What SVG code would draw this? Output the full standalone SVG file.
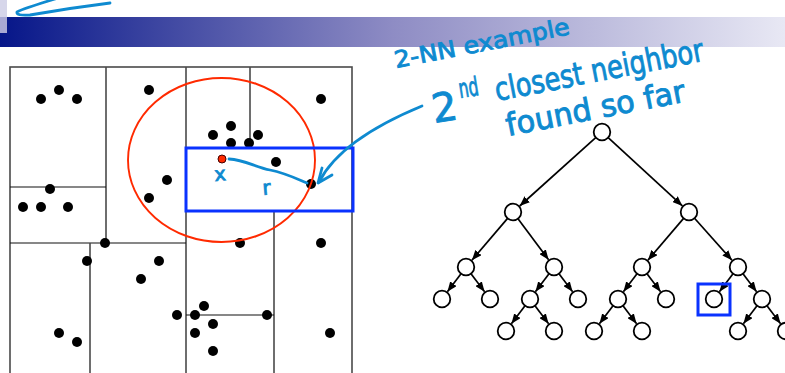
<svg xmlns="http://www.w3.org/2000/svg" width="785" height="373" viewBox="0 0 785 373">
<defs>
<linearGradient id="bar" x1="0" y1="0" x2="1" y2="0">
<stop offset="0" stop-color="#061689"/>
<stop offset="0.5" stop-color="#8e8cc4"/>
<stop offset="1" stop-color="#e8e8f4"/>
</linearGradient>
<marker id="ah" markerUnits="userSpaceOnUse" markerWidth="10" markerHeight="8" refX="10" refY="4" orient="auto">
<path d="M0,0 L10,4 L0,8 z" fill="#000"/>
</marker>
</defs>
<style>
.grid{stroke:#4a4a4a;stroke-width:1.6;fill:none}
.hl{stroke:#111;stroke-width:1.1;fill:none}
.pt{fill:#000}
.nd{fill:#fff;stroke:#000;stroke-width:1.8}
.ed{stroke:#000;stroke-width:1.7;fill:none;marker-end:url(#ah)}
.hw{fill:#0e8ad0;stroke:#0e8ad0;stroke-width:0.9;font-family:"DejaVu Sans",sans-serif}
.ink{stroke:#0e8ad0;stroke-width:2.8;fill:none;stroke-linecap:round;stroke-linejoin:round}
</style>
<rect width="785" height="373" fill="#fff"/>
<g id="header">
<rect x="0" y="17" width="785" height="30" fill="url(#bar)"/>
<rect x="0" y="0" width="7" height="17" fill="#d6d6ea"/>
<rect x="0" y="17" width="7" height="16" fill="#a9a9d3"/>
</g>
<path class="ink" d="M55,-1 Q25,8 17,12 Q16,16 30,15 Q70,8 110,3"/>
<g id="kdspace">
<rect class="grid" x="10" y="67" width="342" height="310"/>
<line class="grid" x1="186" y1="67" x2="186" y2="373"/>
<line class="grid" x1="106" y1="67" x2="106" y2="243"/>
<line class="hl" x1="10" y1="243" x2="186" y2="243"/>
<line class="hl" x1="10" y1="187" x2="106" y2="187"/>
<line class="grid" x1="90" y1="243" x2="90" y2="373"/>
<line class="grid" x1="250" y1="67" x2="250" y2="148"/>
<line class="grid" x1="274" y1="211" x2="274" y2="373"/>
<line class="hl" x1="186" y1="315" x2="274" y2="315"/>
<g class="pt">
<circle cx="41" cy="99" r="5"/><circle cx="59" cy="90" r="5"/><circle cx="77" cy="99" r="5"/>
<circle cx="149" cy="90" r="5"/><circle cx="321" cy="99" r="5"/>
<circle cx="213" cy="135" r="5"/><circle cx="231" cy="126" r="5"/><circle cx="258" cy="135" r="5"/>
<circle cx="231" cy="143" r="5"/><circle cx="249" cy="143" r="5"/>
<circle cx="276" cy="162" r="5"/><circle cx="311" cy="184" r="5"/>
<circle cx="167" cy="180" r="5"/><circle cx="149" cy="198" r="5"/>
<circle cx="50" cy="189" r="5"/><circle cx="23" cy="207" r="5"/><circle cx="41" cy="207" r="5"/><circle cx="68" cy="207" r="5"/>
<circle cx="105" cy="243" r="5"/><circle cx="240" cy="243" r="5"/><circle cx="321" cy="243" r="5"/>
<circle cx="87" cy="261" r="5"/><circle cx="159" cy="261" r="5"/><circle cx="141" cy="279" r="5"/>
<circle cx="204" cy="306" r="5"/><circle cx="177" cy="315" r="5"/><circle cx="195" cy="315" r="5"/><circle cx="267" cy="315" r="5"/>
<circle cx="213" cy="324" r="5"/><circle cx="59" cy="333" r="5"/><circle cx="195" cy="333" r="5"/><circle cx="330" cy="333" r="5"/>
<circle cx="77" cy="342" r="5"/><circle cx="213" cy="351" r="5"/>
</g>
<ellipse cx="221.5" cy="160" rx="93.5" ry="82" fill="none" stroke="#ff2a00" stroke-width="1.9"/>
<rect x="186" y="148" width="167" height="63" fill="none" stroke="#0a32ff" stroke-width="3"/>
<circle cx="222" cy="159" r="4" fill="#ff2a00" stroke="#400" stroke-width="1"/>
</g>
<g id="annotations">
<path class="ink" d="M229,159 C245,160 255,167 270,170 C285,173 295,178 307,183"/>
<text class="hw" x="0" y="0" font-size="19" transform="translate(215,181) rotate(-5)">x</text>
<text class="hw" x="0" y="0" font-size="20" transform="translate(263,195) rotate(-5)">r</text>
<path class="ink" d="M422,106 C388,120 338,145 319,182"/>
<path class="ink" d="M322,168 L318,183 L332,175"/>
<text class="hw" font-size="23" textLength="178" lengthAdjust="spacingAndGlyphs" transform="translate(396,68) rotate(-11)">2-NN example</text>
<text class="hw" font-size="40" transform="translate(434,123) rotate(-9)">2</text>
<text class="hw" font-size="26" textLength="20" lengthAdjust="spacingAndGlyphs" transform="translate(460,98) rotate(-9)">nd</text>
<text class="hw" font-size="32" textLength="212" lengthAdjust="spacingAndGlyphs" transform="translate(497,101) rotate(-11)">closest neighbor</text>
<text class="hw" font-size="31" textLength="182" lengthAdjust="spacingAndGlyphs" transform="translate(508,136) rotate(-11)">found so far</text>
</g>
<g id="connectors">
<line class="ed" x1="596" y1="137.3" x2="519.7" y2="206"/>
<line class="ed" x1="607.9" y1="137.4" x2="682.4" y2="205.9"/>
<line class="ed" x1="507.8" y1="218.1" x2="471.9" y2="260.2"/>
<line class="ed" x1="517.8" y1="218.4" x2="548.6" y2="259.8"/>
<line class="ed" x1="683.8" y1="218.1" x2="647.9" y2="260.2"/>
<line class="ed" x1="694.3" y1="218" x2="732" y2="260.3"/>
<line class="ed" x1="461.2" y1="273.4" x2="447.4" y2="291.8"/>
<line class="ed" x1="470.8" y1="273.4" x2="484.6" y2="291.8"/>
<line class="ed" x1="549.2" y1="273.4" x2="535.4" y2="291.8"/>
<line class="ed" x1="558.8" y1="273.4" x2="572.6" y2="291.8"/>
<line class="ed" x1="637.2" y1="273.4" x2="623.4" y2="291.8"/>
<line class="ed" x1="646.8" y1="273.4" x2="660.6" y2="291.8"/>
<line class="ed" x1="733.2" y1="273.4" x2="719.4" y2="291.8"/>
<line class="ed" x1="742.8" y1="273.4" x2="756.6" y2="291.8"/>
<line class="ed" x1="525.2" y1="305.4" x2="511.4" y2="323.8"/>
<line class="ed" x1="534.8" y1="305.4" x2="548.6" y2="323.8"/>
<line class="ed" x1="613.2" y1="305.4" x2="599.4" y2="323.8"/>
<line class="ed" x1="622.8" y1="305.4" x2="636.6" y2="323.8"/>
<line class="ed" x1="757.2" y1="305.4" x2="743.4" y2="323.8"/>
<line class="ed" x1="766.8" y1="305.4" x2="780.6" y2="323.8"/>
</g>
<g id="n0"><circle class="nd" cx="602" cy="132" r="8.3"/></g>
<g id="n1"><circle class="nd" cx="513" cy="212" r="8.3"/></g>
<g id="n2"><circle class="nd" cx="689" cy="212" r="8.3"/></g>
<g id="n3"><circle class="nd" cx="466" cy="267" r="8.3"/></g>
<g id="n4"><circle class="nd" cx="554" cy="267" r="8.3"/></g>
<g id="n5"><circle class="nd" cx="642" cy="267" r="8.3"/></g>
<g id="n6"><circle class="nd" cx="738" cy="267" r="8.3"/></g>
<g id="n7"><circle class="nd" cx="442" cy="299" r="8.3"/></g>
<g id="n8"><circle class="nd" cx="490" cy="299" r="8.3"/></g>
<g id="n9"><circle class="nd" cx="530" cy="299" r="8.3"/></g>
<g id="n10"><circle class="nd" cx="578" cy="299" r="8.3"/></g>
<g id="n11"><circle class="nd" cx="618" cy="299" r="8.3"/></g>
<g id="n12"><circle class="nd" cx="666" cy="299" r="8.3"/></g>
<g id="n13"><circle class="nd" cx="714" cy="299" r="8.3"/><rect x="698" y="284" width="32" height="31" fill="none" stroke="#0a32ff" stroke-width="3"/></g>
<g id="n14"><circle class="nd" cx="762" cy="299" r="8.3"/></g>
<g id="n15"><circle class="nd" cx="506" cy="331" r="8.3"/></g>
<g id="n16"><circle class="nd" cx="554" cy="331" r="8.3"/></g>
<g id="n17"><circle class="nd" cx="594" cy="331" r="8.3"/></g>
<g id="n18"><circle class="nd" cx="642" cy="331" r="8.3"/></g>
<g id="n19"><circle class="nd" cx="738" cy="331" r="8.3"/></g>
<g id="n20"><circle class="nd" cx="786" cy="331" r="8.3"/></g>
</svg>
